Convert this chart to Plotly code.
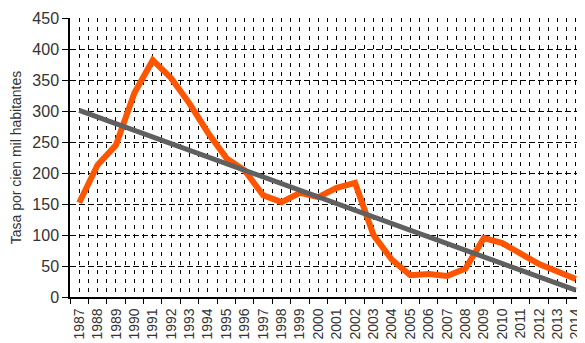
import plotly.graph_objects as go

years = list(range(1987, 2015))
tasa = [152, 213, 245, 329, 382, 353, 312, 265, 224, 204,
        164, 153, 168, 161, 176, 184, 100, 60, 35, 37,
        34, 46, 95, 87, 70, 53, 41, 29]

trend_years = [1987, 2014]
trend_values = [301, 11]

y_ticks = list(range(0, 451, 50))

font_family = "Liberation Sans, Arial, sans-serif"

fig = go.Figure()

# observed rate
fig.add_trace(go.Scatter(
    x=years, y=tasa, mode="lines",
    line=dict(color="#FF5500", width=6),
    hoverinfo="x+y", showlegend=False))

# linear trend
fig.add_trace(go.Scatter(
    x=trend_years, y=trend_values, mode="lines",
    line=dict(color="#606060", width=5),
    hoverinfo="skip", showlegend=False))

fig.update_xaxes(
    range=[1986.5, 2014.5], tickmode="array", tickvals=years,
    ticktext=[str(y) for y in years], tickangle=-90, ticks="",
    ticklabelstandoff=4, automargin=False,
    tickfont=dict(size=14, color="#333333", family=font_family),
    showline=True, linecolor="black", linewidth=1.5,
    showgrid=True, gridcolor="black", gridwidth=1, griddash="4px,5px",
    minor=dict(tickmode="array", tickvals=[y - 0.5 for y in years],
               ticks="outside", ticklen=5, tickcolor="black",
               showgrid=True, gridcolor="black", gridwidth=1, griddash="4px,5px"),
    zeroline=False, fixedrange=True)

fig.update_yaxes(
    range=[0, 450], tickmode="array", tickvals=y_ticks,
    ticks="outside", ticklen=6, tickcolor="black", automargin=False,
    tickfont=dict(size=16, color="#333333", family=font_family),
    showline=True, linecolor="black", linewidth=1.5,
    showgrid=True, gridcolor="black", gridwidth=1, griddash="6px,3px",
    zeroline=False, fixedrange=True,
    title=dict(text="Tasa por cien mil habitantes", standoff=8,
               font=dict(size=14, color="#333333", family=font_family)))

# the page body adds an 8px offset, so the figure is sized for the visible window
fig.update_layout(
    width=577, height=335,
    margin=dict(l=62, r=0, t=10, b=46),
    paper_bgcolor="white", plot_bgcolor="white",
    font=dict(family=font_family))

fig.write_html("out.html")
